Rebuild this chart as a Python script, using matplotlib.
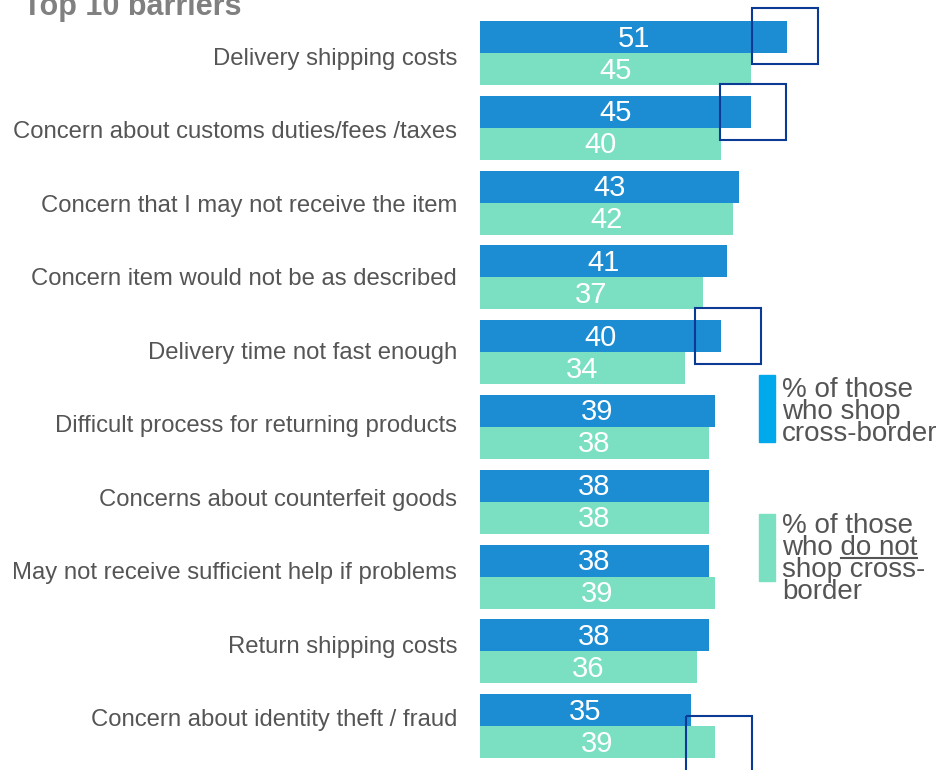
import matplotlib
import matplotlib.pyplot as plt
from matplotlib.patches import Rectangle
from matplotlib.lines import Line2D
import numpy as np

matplotlib.use("Agg")
plt.rcParams["font.family"] = ["Liberation Sans", "DejaVu Sans"]

# Data.
categories = [
    "Delivery shipping costs",
    "Concern about customs duties/fees /taxes",
    "Concern that I may not receive the item",
    "Concern item would not be as described",
    "Delivery time not fast enough",
    "Difficult process for returning products",
    "Concerns about counterfeit goods",
    "May not receive sufficient help if problems",
    "Return shipping costs",
    "Concern about identity theft / fraud",
]
cross_border = [51, 45, 43, 41, 40, 39, 38, 38, 38, 35]
not_cross_border = [45, 40, 42, 37, 34, 38, 38, 39, 36, 39]

BLUE = "#1c8cd3"
GREEN = "#7be0c2"
LEG_BLUE = "#00a8ec"
NAVY = "#0b3a94"
GRAY = "#555555"

W, H = 944, 770
fig = plt.figure(figsize=(W / 100, H / 100), dpi=100)
ax = fig.add_axes([480 / W, 0, 464 / W, 1])

h = 0.428
y = np.arange(len(categories))
ax.barh(y, cross_border, height=h, color=BLUE, align="center")
ax.barh(y + h, not_cross_border, height=h, color=GREEN, align="center")

for yi, v in zip(y, cross_border):
    ax.text(v / 2, yi + 0.02, str(v), ha="center", va="center",
            color="white", fontsize=21)
for yi, v in zip(y, not_cross_border):
    ax.text(v / 2, yi + h + 0.02, str(v), ha="center", va="center",
            color="white", fontsize=21)

ax.set_xlim(0, 464 / 6.02)
ax.set_ylim(9.80, -0.495)
# the labels sit a little tighter than the bar groups in the original
ax.set_yticks(np.linspace(0.254, 9.104, len(categories)))
ax.set_yticklabels(categories, fontsize=17.2, color=GRAY)
ax.tick_params(axis="y", length=0, pad=16.5)
ax.set_xticks([])
for s in ax.spines.values():
    s.set_visible(False)

# highlight boxes around some bar ends: (row offset, left x)
boxes = [(-0.388, 45.2), (1 - 0.372, 39.9), (4 - 0.377, 35.7), (9 + 0.078, 34.2)]
for by, bx in boxes:
    ax.add_patch(Rectangle((bx, by), 11, 0.749, fill=False, edgecolor=NAVY,
                           linewidth=1.5, clip_on=False))

# title (cut off at the top in the original)
fig.text(23 / W, 1 - 15 / H, "Top 10 barriers", fontsize=22, fontweight="bold",
         color="#808080", va="baseline", ha="left")

# legend drawn by hand
fig.add_artist(Rectangle((759 / W, 1 - 442 / H), 16 / W, 67 / H,
                         transform=fig.transFigure, color=LEG_BLUE))
fig.add_artist(Rectangle((759 / W, 1 - 581 / H), 16 / W, 67 / H,
                         transform=fig.transFigure, color=GREEN))

lx = 782 / W
for txt, base in [("% of those", 397), ("who shop", 419), ("cross-border", 441)]:
    fig.text(lx, 1 - base / H, txt, fontsize=20, color=GRAY, va="baseline")
for txt, base in [("% of those", 533), ("who do not", 555),
                  ("shop cross-", 577), ("border", 599)]:
    t = fig.text(lx, 1 - base / H, txt, fontsize=20, color=GRAY, va="baseline")
    if txt == "who do not":
        under = t

# underline "do not"
r = fig.canvas.get_renderer()
full = under.get_window_extent(r)
probe = fig.text(0, 0, "do not", fontsize=20)
wd = probe.get_window_extent(r).width
probe.remove()
ux1 = full.x1 / (W)
ux0 = (full.x1 - wd) / W
uy = 1 - 557.5 / H
fig.add_artist(Line2D([ux0, ux1], [uy, uy], transform=fig.transFigure,
                      color=GRAY, linewidth=1.5))

fig.savefig("out.png", dpi=100)
